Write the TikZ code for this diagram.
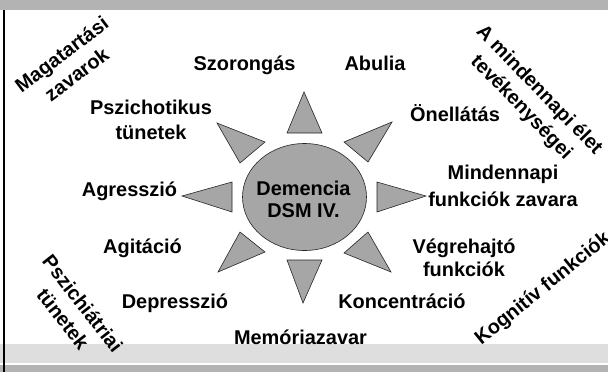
\documentclass[tikz,border=0pt]{standalone}
\usepackage{fontspec}
\setmainfont{Liberation Sans}
\usetikzlibrary{shapes.geometric}
\definecolor{raygray}{RGB}{166,166,166}
\definecolor{bandgray}{RGB}{179,179,179}
\definecolor{lightband}{RGB}{222,222,222}
\begin{document}
\begin{tikzpicture}[x=1bp,y=-1bp,
  lbl/.style={font=\fontsize{20}{25}\selectfont\bfseries, inner sep=0pt, align=center, anchor=base},
  cat/.style={font=\fontsize{20}{25}\selectfont\bfseries, inner sep=0pt, align=center, anchor=center},
  ray/.style={fill=raygray, draw=black!85, line width=0.6bp, line join=miter},
]
\useasboundingbox (0,0) rectangle (608,372);
\fill[white] (0,0) rectangle (608,372);
\fill[bandgray] (0,0) rectangle (608,10);
\fill[lightband] (0,344) rectangle (608,363);
\fill[bandgray] (0,365) rectangle (608,372);
\draw[line width=2bp] (4,10) -- (4,372);

% sun
\node[ellipse, draw=black!85, fill=raygray, line width=0.6bp, minimum width=124bp, minimum height=107bp, inner sep=0pt] (sun) at (304.5,197) {};
\draw[ray] (304,92) -- (287,133) -- (322,133) -- cycle;
\draw[ray] (303,303) -- (287,260) -- (322,260) -- cycle;
\draw[ray] (182,196) -- (232,182) -- (232,212) -- cycle;
\draw[ray] (426,196) -- (377,182) -- (377,212) -- cycle;
\draw[ray] (217,123) -- (265,142) -- (240,163) -- cycle;
\draw[ray] (392,122) -- (344,142) -- (368,162) -- cycle;
\draw[ray] (218,272) -- (265,252) -- (240,232) -- cycle;
\draw[ray] (391,272) -- (344,253) -- (368,232) -- cycle;

% (base anchor of a two-line node = baseline of its last line)
\node[lbl, font=\fontsize{20}{22}\selectfont\bfseries] (dsm) at (303.5,217) {Demencia\\DSM IV.};

% labels
\node[lbl] (szor) at (244.5,70) {Szorongás};
\node[lbl] (abul) at (375,70) {Abulia};
\node[lbl] (pszi) at (151,139) {Pszichotikus\\tünetek};
\node[lbl] (onel) at (455,121) {Önellátás};
\node[lbl, font=\fontsize{20}{27}\selectfont\bfseries] (mind) at (503,206) {Mindennapi\\funkciók zavara};
\node[lbl] (agre) at (129.5,196) {Agresszió};
\node[lbl] (agit) at (142.5,253) {Agitáció};
\node[lbl, font=\fontsize{20}{23}\selectfont\bfseries] (vegr) at (464,276) {Végrehajtó\\funkciók};
\node[lbl] (depr) at (175,308) {Depresszió};
\node[lbl] (konc) at (402,308) {Koncentráció};
\node[lbl] (memo) at (300.5,344) {Memóriazavar};

% category labels
\node[cat, rotate=37] (maga) at (69,64) {Magatartási\\zavarok};
\node[cat, rotate=-46] (napi) at (530,99) {A mindennapi élet\\tevékenységei};
\node[cat, rotate=-52] (pszt) at (73,311) {Pszichiátriai\\tünetek};
\node[cat, rotate=39] (kogn) at (543,289) {Kognitív funkciók};
\end{tikzpicture}
\end{document}
